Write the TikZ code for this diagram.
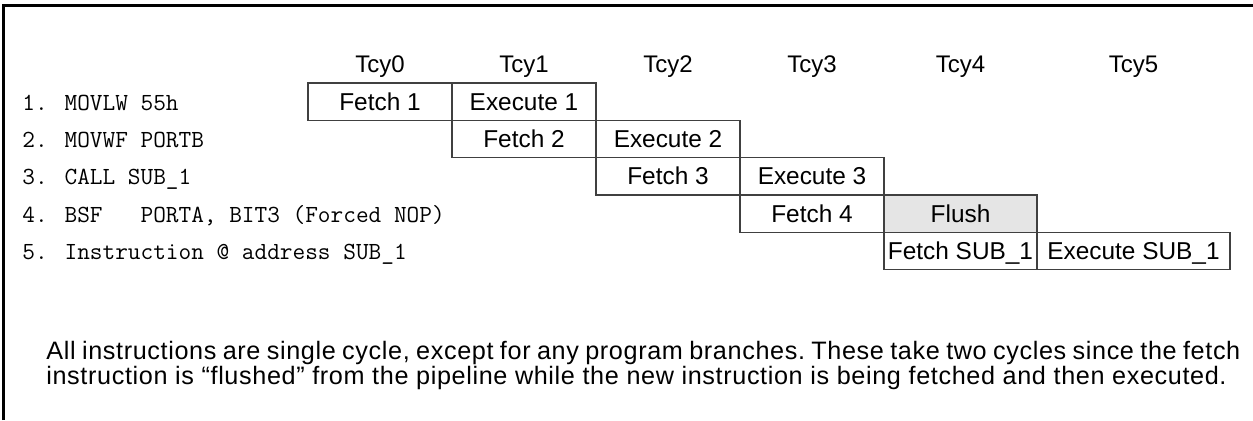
\documentclass[tikz,border=0pt]{standalone}
\usepackage{fontspec}
\setmainfont{Liberation Sans}
\newfontfamily\notefont[LetterSpace=2.5]{Liberation Sans}
\usepackage{tikz}
\usetikzlibrary{positioning}
\definecolor{boxline}{HTML}{404040}
\definecolor{flushgray}{HTML}{E5E5E5}
\newcommand{\us}{\char`\_}
\tikzset{
  pipe_c/.style = {rectangle, draw=boxline, line width=0.6pt, inner sep=0pt,
    minimum width=72pt, minimum height=18.65pt, text height=8.6pt,
    text depth=0pt, font=\fontsize{12.2pt}{12pt}\selectfont},
  pipe_g/.style = {pipe_c, fill=flushgray},% flushed slot
  cyc_t/.style = {inner sep=0pt, anchor=base,
    font=\fontsize{12pt}{12pt}\selectfont},
  instr_t/.style = {inner sep=0pt, anchor=base west,
    font=\fontsize{12.3pt}{12pt}\ttfamily}
}

\begin{document}
\begin{tikzpicture}[x=0.5pt,y=-0.5pt]
\useasboundingbox (0,0) rectangle (1253,420);
\draw[line width=1.5pt] (3,420) -- (3,5) -- (1253,5);
%
    \node (T0) [cyc_t] at (380,72.5) {Tcy0};
    \node (T1) [cyc_t] at (524,72.5) {Tcy1};
    \node (T2) [cyc_t] at (668,72.5) {Tcy2};
    \node (T3) [cyc_t] at (812,72.5) {Tcy3};
    \node (T4) [cyc_t] at (960.5,72.5) {Tcy4};
    \node (T5) [cyc_t] at (1133.5,72.5) {Tcy5};
%
    \node (I1) [instr_t] at (22,110.3) {1. MOVLW 55h};
    \node (I2) [instr_t] at (22,147.6) {2. MOVWF PORTB};
    \node (I3) [instr_t] at (22,184.9) {3. CALL SUB\us 1};
    \node (I4) [instr_t] at (22,222.2) {4. BSF\ \ \ PORTA, BIT3 (Forced NOP)};
    \node (I5) [instr_t] at (22,259.5) {5. Instruction @ address SUB\us 1};
%
    \node (F1) [pipe_c] at (380,101.7) {Fetch 1};
    \node (E1) [pipe_c] at (524,101.7) {Execute 1};
%
    \node (F2) [pipe_c] at (524,139) {Fetch 2};
    \node (E2) [pipe_c] at (668,139) {Execute 2};
%
    \node (F3) [pipe_c] at (668,176.3) {Fetch 3};
    \node (E3) [pipe_c] at (812,176.3) {Execute 3};
%
    \node (F4) [pipe_c] at (812,213.6) {Fetch 4};
    \node (FL) [pipe_g, minimum width=76.5pt] at (960.5,213.6) {Flush};
%
    \node (FS) [pipe_c, minimum width=76.5pt] at (960.5,250.9) {Fetch SUB\us 1};
    \node (ES) [pipe_c, minimum width=96.5pt] at (1133.5,250.9) {Execute SUB\us 1};
%
%
\node (N) [anchor=base west, inner sep=0pt, text width=597pt, align=justify,
  font=\fontsize{12.6pt}{12.5pt}\notefont] at (46,359)
  {\frenchspacing\hyphenpenalty=10000\tolerance=10000 All instructions are single cycle, except for any program branches. These take two cycles since the fetch\linebreak instruction is “flushed” from the pipeline while the new instruction is being fetched and then executed.};
\end{tikzpicture}
\end{document}
